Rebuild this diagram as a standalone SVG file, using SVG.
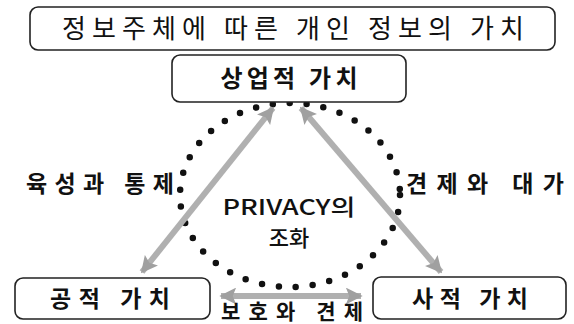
<svg xmlns="http://www.w3.org/2000/svg" width="574" height="324" viewBox="0 0 574 324">
<defs>
<style>
.box{fill:#fff;stroke:#222;stroke-width:1.6}
.t{font-family:"Noto Sans CJK KR","Noto Sans",sans-serif;fill:#111;text-anchor:middle}
.b{font-weight:bold}
.arr{stroke:#b0b0b0;stroke-width:6;fill:none;marker-start:url(#ah);marker-end:url(#ah)}
.dots{fill:none;stroke:#111;stroke-width:6.5;stroke-linecap:round;stroke-dasharray:0 17}
</style>
<marker id="ah" viewBox="0 0 10 10" refX="9" refY="5" markerWidth="2.8" markerHeight="2.8" orient="auto-start-reverse" markerUnits="strokeWidth">
<path d="M0,0 L10,5 L0,10 L2,5 Z" fill="#a0a0a0"/>
</marker>
</defs>
<g id="harmony">
<ellipse class="dots" cx="290" cy="195" rx="110" ry="92"/>
</g>
<g id="connectors">
<line class="arr" x1="273" y1="108" x2="142" y2="272"/>
<line class="arr" x1="301" y1="108" x2="441" y2="272"/>
<line class="arr" x1="221" y1="296" x2="361" y2="296"/>
</g>
<g id="title">
<rect class="box" x="30" y="7" width="525" height="43" rx="8"/>
<text class="t" x="293" y="38" font-size="26" textLength="462" lengthAdjust="spacing">정보주체에 따른 개인 정보의 가치</text>
</g>
<g id="commercial">
<rect class="box" x="172" y="55" width="234" height="47" rx="8"/>
<text class="t b" x="289" y="87" font-size="24" textLength="137" lengthAdjust="spacing">상업적 가치</text>
</g>
<g id="public">
<rect class="box" x="15" y="278" width="195" height="41" rx="8"/>
<text class="t b" x="110" y="307" font-size="23" textLength="120" lengthAdjust="spacing">공적 가치</text>
</g>
<g id="private">
<rect class="box" x="373" y="277" width="193" height="42" rx="8"/>
<text class="t b" x="470" y="307" font-size="23" textLength="116" lengthAdjust="spacing">사적 가치</text>
</g>
<g id="labels">
<text class="t b" x="100" y="192" font-size="23" textLength="148" lengthAdjust="spacing">육성과 통제</text>
<text class="t b" x="485" y="192" font-size="23" textLength="158" lengthAdjust="spacing">견제와 대가</text>
<text class="t" x="289" y="215" font-size="22" font-weight="500" textLength="133" lengthAdjust="spacingAndGlyphs">PRIVACY의</text>
<text class="t" x="289" y="246" font-size="22" font-weight="500">조화</text>
<text class="t b" x="292" y="319" font-size="21" textLength="142" lengthAdjust="spacing">보호와 견제</text>
</g>
</svg>
